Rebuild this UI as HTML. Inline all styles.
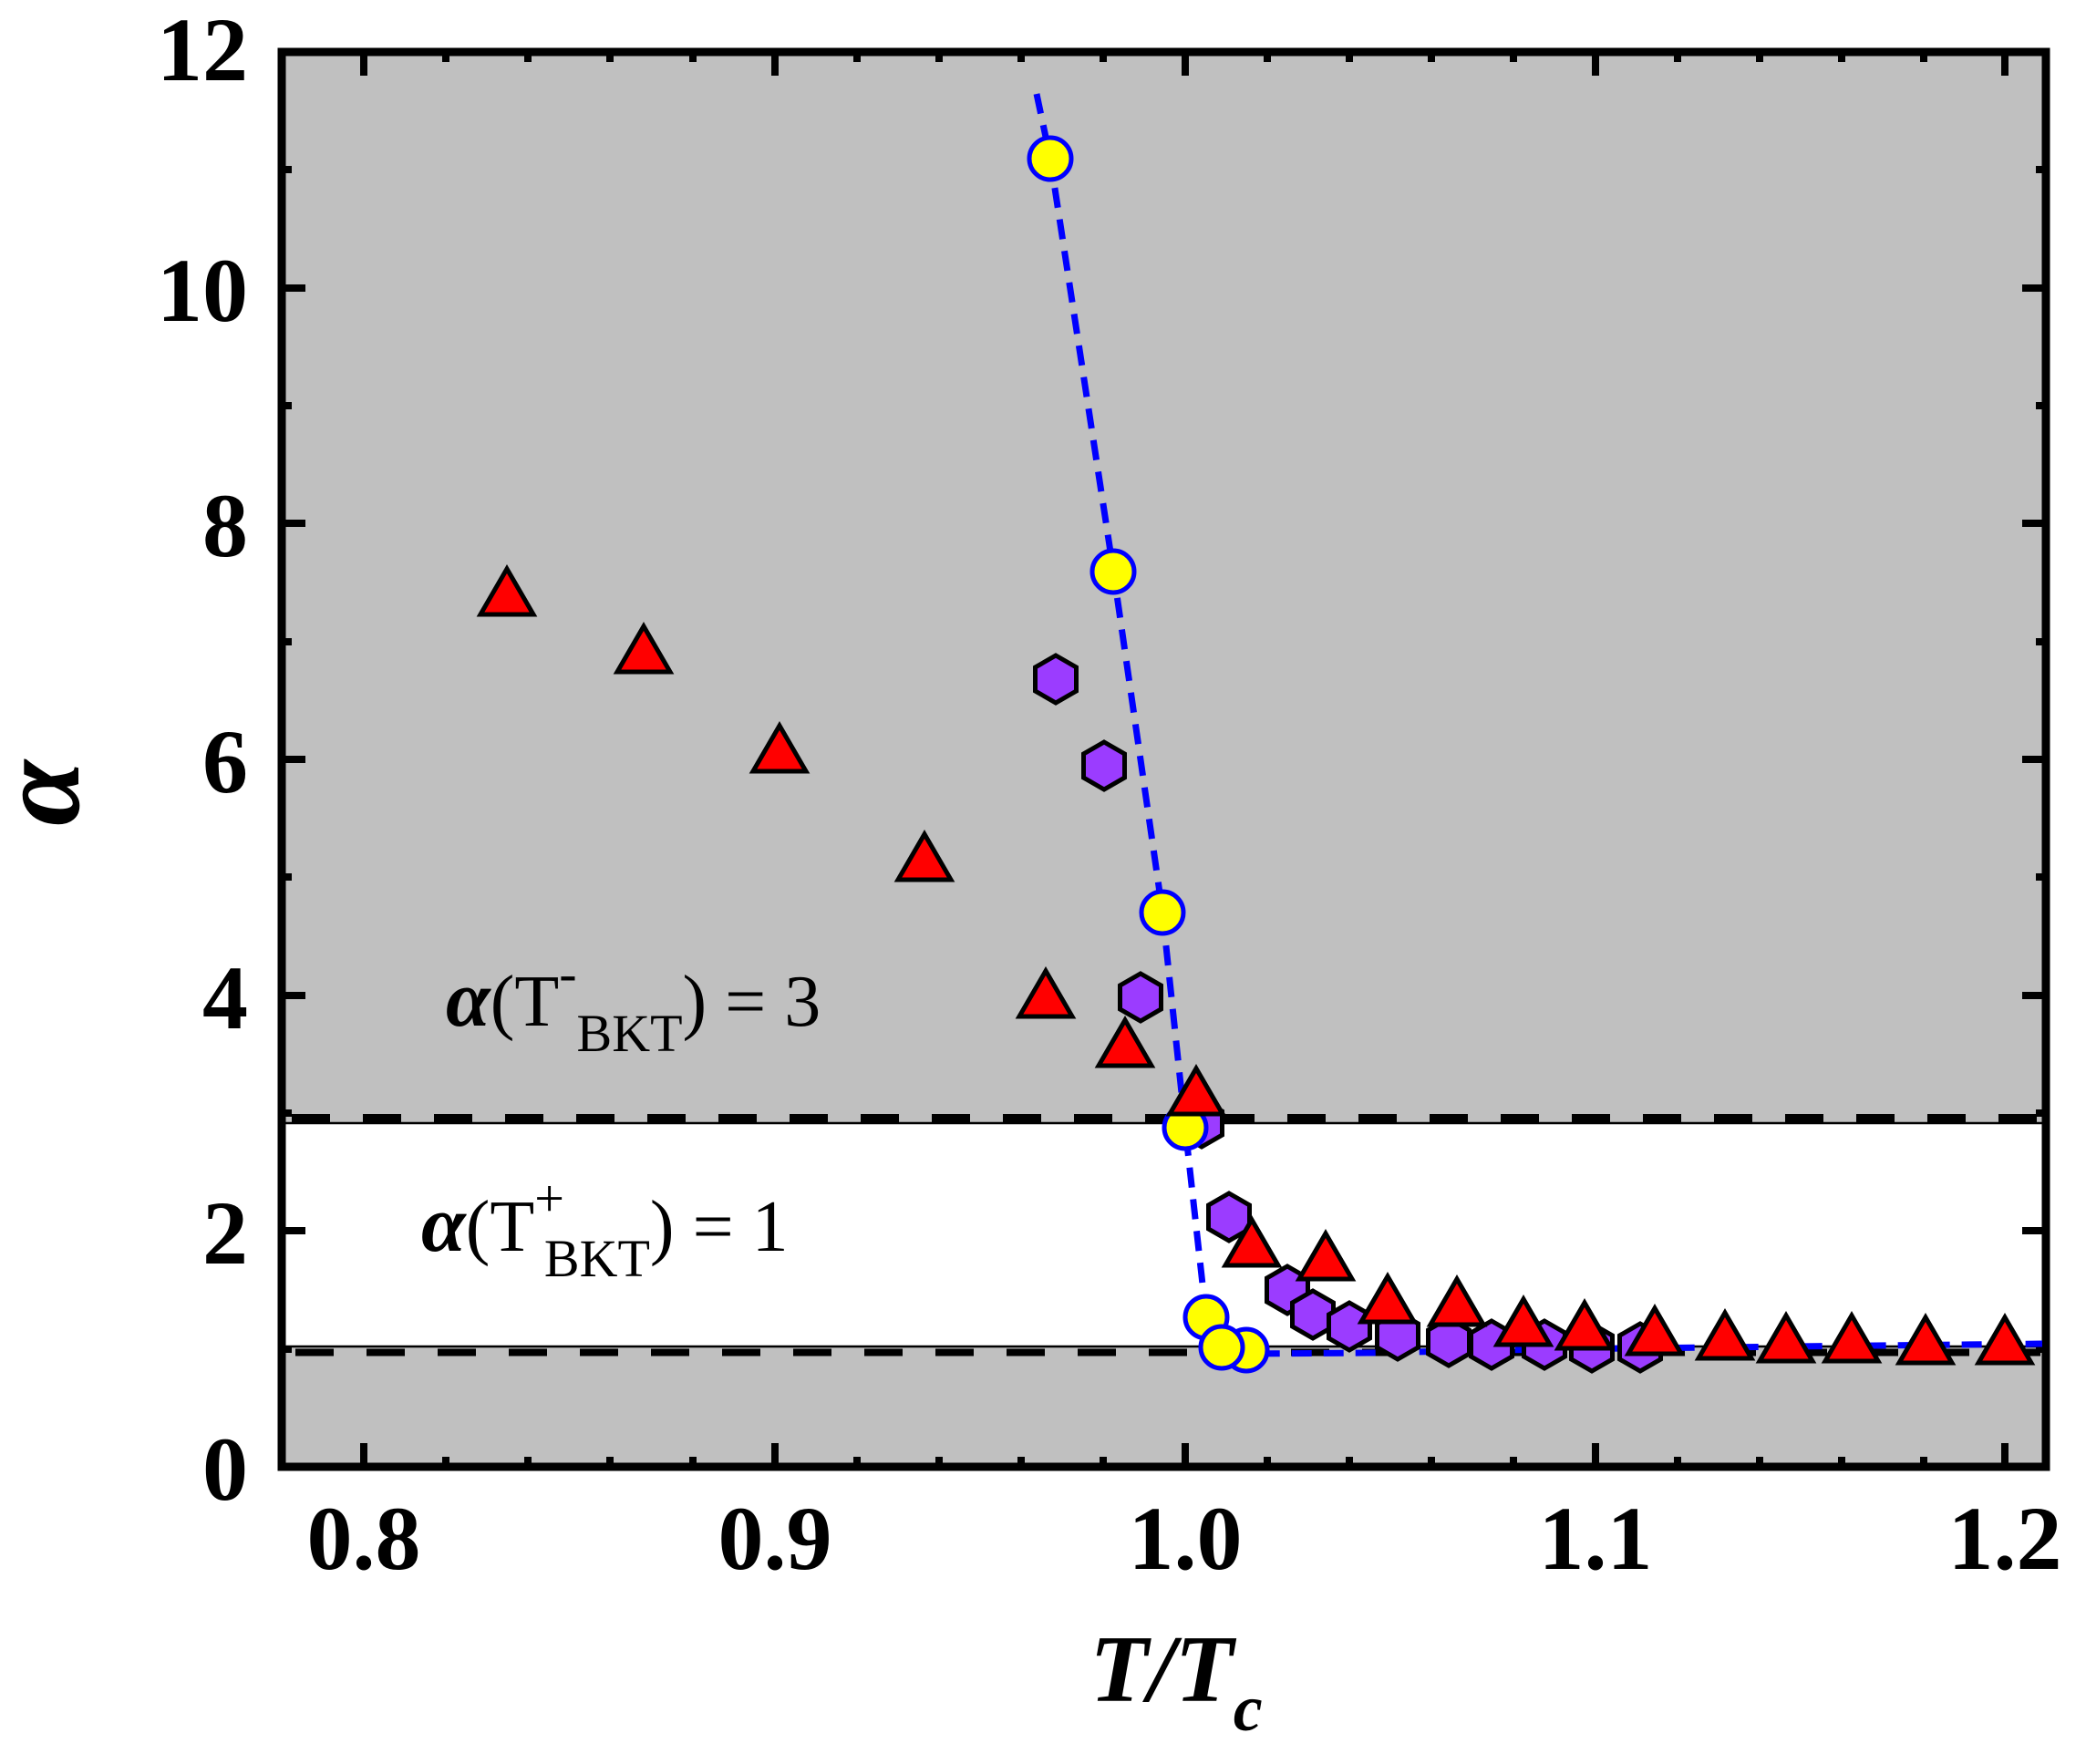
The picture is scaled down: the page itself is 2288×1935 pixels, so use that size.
<!DOCTYPE html>
<html><head><meta charset="utf-8"><style>html,body{margin:0;padding:0;background:#fff}svg{display:block}</style></head>
<body>
<svg width="2288" height="1935" viewBox="0 0 2288 1935" xmlns="http://www.w3.org/2000/svg">
<rect x="309" y="57" width="1935" height="1552" fill="#c0c0c0"/>
<rect x="309" y="1232" width="1935" height="246" fill="#fff"/>
<line x1="309" y1="1232" x2="2244" y2="1232" stroke="#000" stroke-width="2.5"/>
<line x1="309" y1="1477" x2="2244" y2="1477" stroke="#000" stroke-width="2.5"/>
<line x1="309" y1="1226.5" x2="2244" y2="1226.5" stroke="#000" stroke-width="9" stroke-dasharray="42 36" stroke-dashoffset="-11"/>
<line x1="309" y1="1483.5" x2="2244" y2="1483.5" stroke="#000" stroke-width="8" stroke-dasharray="42 36" stroke-dashoffset="-15"/>
<g stroke="#000" stroke-width="8">
<path d="M399 1609v-26M850 1609v-26M1300 1609v-26M1750 1609v-26M2199 1609v-26M399 57v26M850 57v26M1300 57v26M1750 57v26M2199 57v26"/>
<path d="M489 1609v-11M579 1609v-11M669 1609v-11M760 1609v-11M940 1609v-11M1030 1609v-11M1120 1609v-11M1210 1609v-11M1390 1609v-11M1480 1609v-11M1570 1609v-11M1660 1609v-11M1840 1609v-11M1930 1609v-11M2020 1609v-11M2110 1609v-11M489 57v11M579 57v11M669 57v11M760 57v11M940 57v11M1030 57v11M1120 57v11M1210 57v11M1390 57v11M1480 57v11M1570 57v11M1660 57v11M1840 57v11M1930 57v11M2020 57v11M2110 57v11"/>
<path d="M309 1350h26M309 1092h26M309 833h26M309 574h26M309 316h26M2244 1350h-26M2244 1092h-26M2244 833h-26M2244 574h-26M2244 316h-26"/>
<path d="M309 1480h11M309 1221h11M309 962h11M309 704h11M309 445h11M309 186h11M2244 1480h-11M2244 1221h-11M2244 962h-11M2244 704h-11M2244 445h-11M2244 186h-11"/>
</g>
<rect x="309" y="57" width="1935" height="1552" fill="none" stroke="#000" stroke-width="9"/>
<path d="M1137 103 L1152 174 L1221 625 L1275 1000 L1300 1237 L1323 1445 L1340 1478 L1367 1485 L1500 1484 L1700 1480 L2240 1474" fill="none" stroke="#0000ff" stroke-width="7" stroke-dasharray="22 13"/>
<g fill="#9b3cff" stroke="#000" stroke-width="5">
<path d="M0 -26L22.5 -13L22.5 13L0 26L-22.5 13L-22.5 -13Z" transform="translate(1158 745)"/>
<path d="M0 -26L22.5 -13L22.5 13L0 26L-22.5 13L-22.5 -13Z" transform="translate(1211 840)"/>
<path d="M0 -26L22.5 -13L22.5 13L0 26L-22.5 13L-22.5 -13Z" transform="translate(1251 1094)"/>
<path d="M0 -26L22.5 -13L22.5 13L0 26L-22.5 13L-22.5 -13Z" transform="translate(1318 1232)"/>
<path d="M0 -26L22.5 -13L22.5 13L0 26L-22.5 13L-22.5 -13Z" transform="translate(1348 1335)"/>
<path d="M0 -26L22.5 -13L22.5 13L0 26L-22.5 13L-22.5 -13Z" transform="translate(1412 1415)"/>
<path d="M0 -26L22.5 -13L22.5 13L0 26L-22.5 13L-22.5 -13Z" transform="translate(1440 1442)"/>
<path d="M0 -26L22.5 -13L22.5 13L0 26L-22.5 13L-22.5 -13Z" transform="translate(1480 1455)"/>
<path d="M0 -26L22.5 -13L22.5 13L0 26L-22.5 13L-22.5 -13Z" transform="translate(1533 1465)"/>
<path d="M0 -26L22.5 -13L22.5 13L0 26L-22.5 13L-22.5 -13Z" transform="translate(1589 1472)"/>
<path d="M0 -26L22.5 -13L22.5 13L0 26L-22.5 13L-22.5 -13Z" transform="translate(1636 1475)"/>
<path d="M0 -26L22.5 -13L22.5 13L0 26L-22.5 13L-22.5 -13Z" transform="translate(1694 1475)"/>
<path d="M0 -26L22.5 -13L22.5 13L0 26L-22.5 13L-22.5 -13Z" transform="translate(1746 1478)"/>
<path d="M0 -26L22.5 -13L22.5 13L0 26L-22.5 13L-22.5 -13Z" transform="translate(1799 1478)"/>
</g>
<g fill="#ffff00" stroke="#0000ff" stroke-width="5">
<circle cx="1152" cy="174" r="23"/>
<circle cx="1221" cy="627" r="23"/>
<circle cx="1275" cy="1001" r="23"/>
<circle cx="1300" cy="1237" r="23"/>
<circle cx="1323" cy="1445" r="23"/>
<circle cx="1367" cy="1481" r="23"/>
<circle cx="1340" cy="1478" r="23"/>
</g>
<g fill="#ff0000" stroke="#000" stroke-width="5" stroke-linejoin="miter">
<path d="M556 624l29 50h-58z"/>
<path d="M706 687l29 50h-58z"/>
<path d="M855 796l29 50h-58z"/>
<path d="M1014 915l29 50h-58z"/>
<path d="M1147 1065l29 50h-58z"/>
<path d="M1234 1119l29 50h-58z"/>
<path d="M1312 1172l29 50h-58z"/>
<path d="M1373 1338l29 50h-58z"/>
<path d="M1454 1353l29 50h-58z"/>
<path d="M1522 1400l29 50h-58z"/>
<path d="M1598 1403l29 50h-58z"/>
<path d="M1671 1425l29 50h-58z"/>
<path d="M1738 1429l29 50h-58z"/>
<path d="M1815 1435l29 50h-58z"/>
<path d="M1892 1440l29 50h-58z"/>
<path d="M1959 1443l29 50h-58z"/>
<path d="M2031 1443l29 50h-58z"/>
<path d="M2112 1445l29 50h-58z"/>
<path d="M2199 1445l29 50h-58z"/>
</g>
<g font-family="'Liberation Serif', serif" font-weight="bold" font-size="100" fill="#000">
<g text-anchor="end">
<text x="272" y="1645">0</text>
<text x="272" y="1386">2</text>
<text x="272" y="1128">4</text>
<text x="272" y="869">6</text>
<text x="272" y="610">8</text>
<text x="272" y="352">10</text>
<text x="272" y="88">12</text>
</g>
<g text-anchor="middle">
<text x="399" y="1721">0.8</text>
<text x="850" y="1721">0.9</text>
<text x="1300" y="1721">1.0</text>
<text x="1750" y="1721">1.1</text>
<text x="2199" y="1721">1.2</text>
</g>
<text x="0" y="0" font-style="italic" font-size="130" transform="translate(86 870) rotate(-90)" text-anchor="middle">α</text>
<text x="1290" y="1866" font-style="italic" font-size="105" text-anchor="middle">T/T<tspan font-size="72" dy="32">c</tspan></text>
</g>
<g font-family="'Liberation Serif', serif" font-size="80" fill="#000">
<text x="489" y="1125"><tspan font-style="italic" font-weight="bold" font-size="88">α</tspan>(T<tspan font-size="58" dy="-38">-</tspan><tspan font-size="58" dy="66" dx="0">BKT</tspan><tspan dy="-28">) = 3</tspan></text>
<text x="462" y="1372"><tspan font-style="italic" font-weight="bold" font-size="88">α</tspan>(T<tspan font-size="58" dy="-38">+</tspan><tspan font-size="58" dy="66" dx="-22">BKT</tspan><tspan dy="-28">) = 1</tspan></text>
</g>
</svg>
</body></html>
